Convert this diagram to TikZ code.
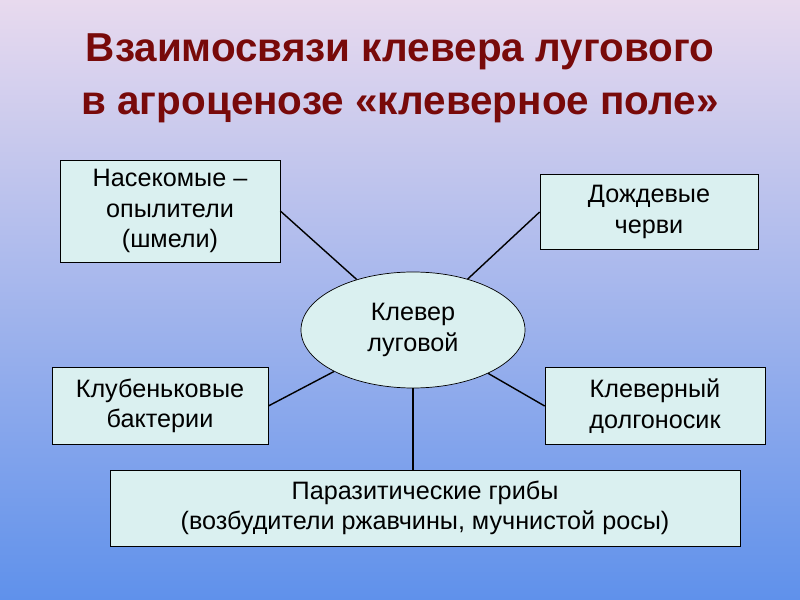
\documentclass[tikz,border=0pt]{standalone}
\usepackage{fontspec}
\setmainfont{Liberation Sans}
\usetikzlibrary{shapes.geometric}
\definecolor{titlered}{RGB}{120,10,10}
\definecolor{boxfill}{RGB}{218,240,240}
\definecolor{bgtop}{RGB}{232,218,238}
\definecolor{bgbot}{RGB}{95,145,235}
\tikzset{
  rbox/.style={draw,fill=boxfill,align=center,font=\fontsize{21.5}{26}\selectfont,line width=0.6pt},
  link/.style={line width=1.2pt}
}
\begin{document}
\begin{tikzpicture}[x=0.03cm,y=-0.03cm]
        \shade[top color=bgtop,bottom color=bgbot] (0,0) rectangle (800,600);
        \useasboundingbox (0,0) rectangle (800,600);
        \node[align=center,text=titlered,font=\bfseries\fontsize{34.5}{45}\selectfont] (title) at (400,78) {Взаимосвязи клевера лугового\\в агроценозе «клеверное поле»};
        \node[rbox,minimum width=220*0.03cm,minimum height=102*0.03cm] (insects) at (170,211) {Насекомые –\\опылители\\(шмели)};
        \node[rbox,minimum width=218*0.03cm,minimum height=75*0.03cm] (worms) at (649,212) {Дождевые\\черви};
        \node[ellipse,draw,fill=boxfill,align=center,font=\fontsize{21.5}{26}\selectfont,minimum width=224*0.03cm,minimum height=116*0.03cm,inner sep=0pt,line width=0.6pt] (clover) at (413,330) {Клевер\\луговой};
        \node[rbox,minimum width=216*0.03cm,minimum height=77*0.03cm] (bact) at (160,406) {Клубеньковые\\бактерии};
        \node[rbox,minimum width=220*0.03cm,minimum height=77*0.03cm] (weevil) at (655,406) {Клеверный\\долгоносик};
        \node[rbox,minimum width=630*0.03cm,minimum height=76*0.03cm] (fungi) at (425,508) {Паразитические грибы\\(возбудители ржавчины, мучнистой росы)};
        \draw[link] (insects.east) -- (clover);
        \draw[link] (worms.west) -- (clover);
        \draw[link] (bact.east) -- (clover);
        \draw[link] (weevil.west) -- (clover);
        \draw[link] (clover.south) -- (clover.south |- fungi.north);
      \end{tikzpicture}
\end{document}
